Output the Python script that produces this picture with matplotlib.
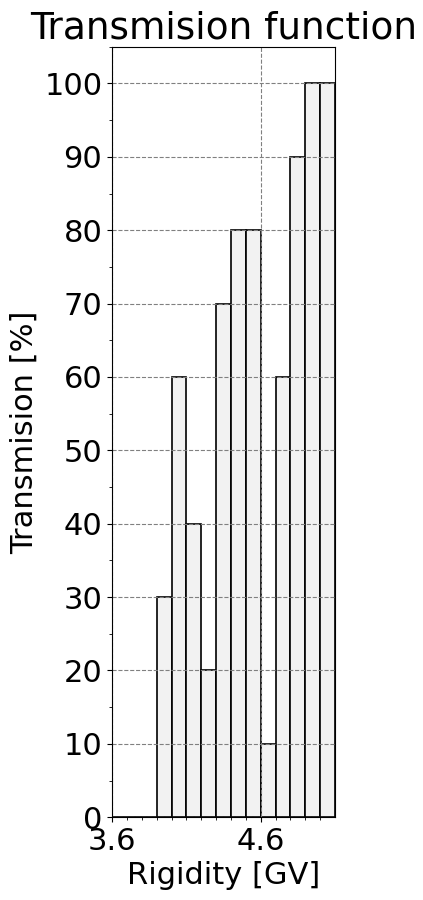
import numpy as np
import matplotlib.pyplot as plt
from matplotlib.ticker import MultipleLocator, FixedLocator

# bin left edges [GV] and transmission [%]
rigidity = np.array([3.6, 3.7, 3.8, 3.9, 4.0, 4.1, 4.2, 4.3, 4.4, 4.5, 4.6, 4.7, 4.8, 4.9, 5.0])
transmision = np.array([0, 0, 0, 30, 60, 40, 20, 70, 80, 80, 10, 60, 90, 100, 100])
xticks = [3.6, 4.6]

fig = plt.figure(figsize=(4.23, 9), dpi=100)
ax = fig.add_axes([0.265, 0.092, 0.527, 0.856])
ax.bar(rigidity, transmision, width=0.1, align="edge", color="#f2f2f2", edgecolor="black", linewidth=1.2)
ax.set_xlim(3.6, 5.1)
ax.set_ylim(0, 105)
ax.xaxis.set_major_locator(FixedLocator(xticks))
ax.xaxis.set_minor_locator(FixedLocator(rigidity))
ax.yaxis.set_major_locator(MultipleLocator(10))
ax.yaxis.set_minor_locator(MultipleLocator(5))
ax.set_axisbelow(False)
ax.grid(True, which="major", linestyle="--", color="gray", linewidth=0.8)
for sp in ax.spines.values():
    sp.set_zorder(4)
ax.tick_params(labelsize=22)
ax.set_xticklabels(["3.6", "4.6"])
ax.set_xlabel("Rigidity [GV]", fontsize=22)
ax.set_ylabel("Transmision [%]", fontsize=22)
ax.set_title("Transmision function", fontsize=27)
fig.savefig("out.png", dpi=100)
